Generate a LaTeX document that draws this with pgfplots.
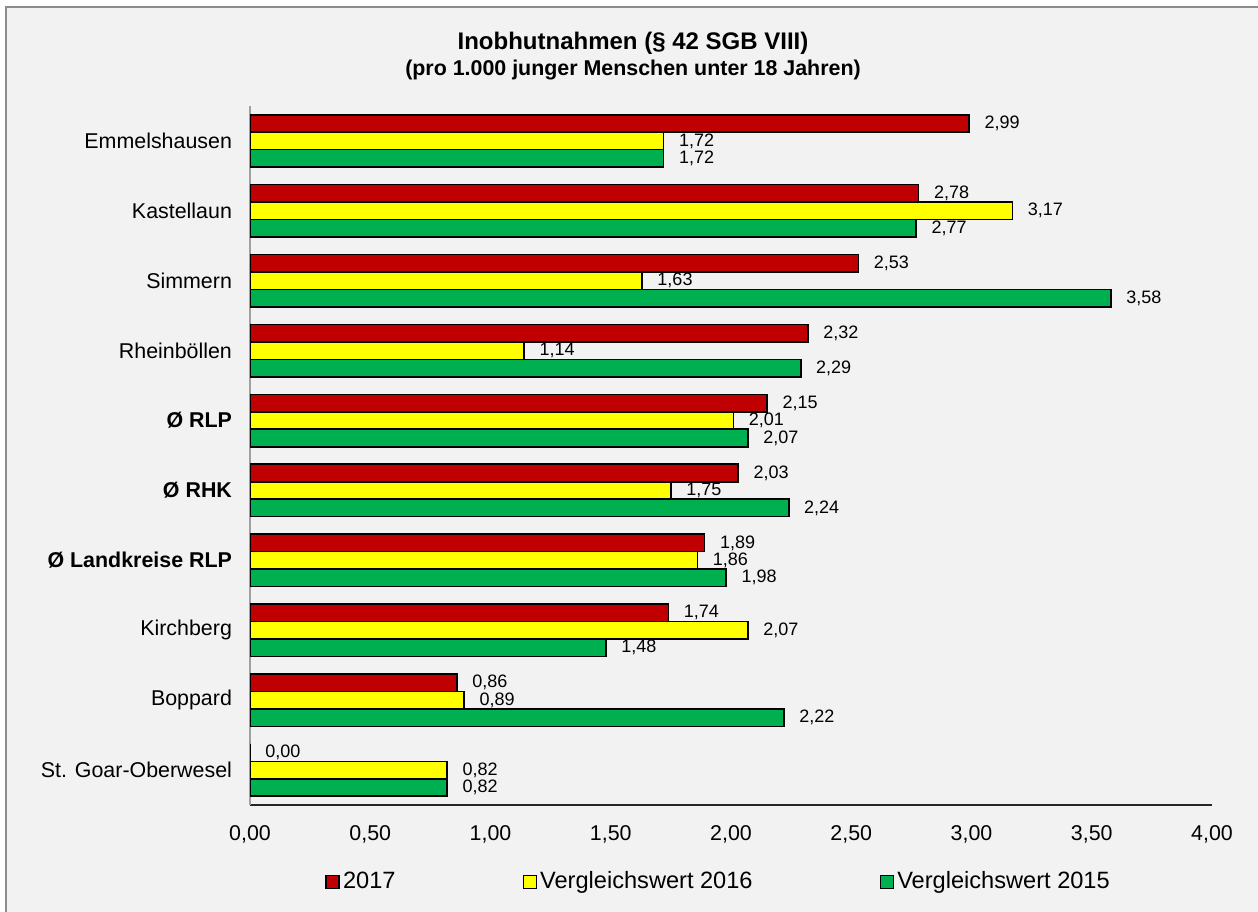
\documentclass[border=0pt]{standalone}
\usepackage{fontspec}
\setmainfont{Liberation Sans}
\usepackage{pgfplots}
\usepackage{pgfplotstable}
\pgfplotsset{compat=1.18}

\definecolor{bar17}{HTML}{C00000}
\definecolor{bar16}{HTML}{FFFF00}
\definecolor{bar15}{HTML}{00B050}
\definecolor{chartbg}{HTML}{F2F2F2}
\definecolor{framegray}{HTML}{8C8C8C}
\definecolor{axisgray}{HTML}{A0A0A0}

% Inobhutnahmen je 1.000 junger Menschen unter 18 Jahren
% idx 9 = oberste Zeile (Emmelshausen), idx 0 = unterste Zeile
\pgfplotstableread{
idx v2017 v2016 v2015
9 2.99 1.72 1.72
8 2.78 3.17 2.77
7 2.53 1.63 3.58
6 2.32 1.14 2.29
5 2.15 2.01 2.07
4 2.03 1.75 2.24
3 1.89 1.86 1.98
2 1.74 2.07 1.48
1 0.86 0.89 2.22
0 0.00 0.82 0.82
}\inobhut

\begin{document}
\begin{tikzpicture}
\useasboundingbox (0pt,0pt) rectangle (629pt,455.5pt);
\fill[white] (0pt,0pt) rectangle (629pt,455.5pt);
\draw[framegray, line width=1.2pt, fill=chartbg] (3pt,-10pt) rectangle (640pt,452pt);

\begin{axis}[
  at={(125pt,53pt)}, anchor=south west,
  scale only axis, width=481pt, height=349.5pt,
  xbar, bar width=0.25,
  legend image code/.code={\draw[#1, line width=0.8pt] (0pt,-3.25pt) rectangle (6.5pt,3.25pt);},
  xmin=0, xmax=4, ymin=-0.5, ymax=9.5,
  xtick={0,0.5,1,1.5,2,2.5,3,3.5,4},
  scaled x ticks=false,
  xticklabel style={font=\fontsize{10.7}{12}\selectfont, yshift=-6.5pt,
    /pgf/number format/.cd, fixed, fixed zerofill, precision=2, use comma, assume math mode=true},
  ytick={0,1,2,3,4,5,6,7,8,9},
  yticklabels={St. Goar-Oberwesel, Boppard, Kirchberg,
    \textbf{Ø Landkreise RLP}\hspace{3.5pt}, \textbf{Ø RHK}\hspace{3.5pt},
    \textbf{Ø RLP}\hspace{3.5pt}, Rheinböllen, Simmern, Kastellaun, Emmelshausen},
  yticklabel style={font=\fontsize{10.7}{12}\selectfont, xshift=-5.5pt},
  major tick length=0pt,
  axis x line*=bottom, axis y line*=left,
  x axis line style={black!85, line width=1pt, -},
  y axis line style={axisgray, line width=1pt, -},
  point meta=x,
  nodes near coords={\pgfmathprintnumber[fixed, fixed zerofill, precision=2, use comma, assume math mode=true]{\pgfplotspointmeta}},
  every node near coord/.append style={font=\fontsize{9}{10}\selectfont, text=black, draw=none, fill=none, anchor=west, xshift=4pt},
  legend columns=3,
  legend cell align=left,
  legend style={at={(0.078,-0.110)}, anchor=west, draw=none, fill=none, inner sep=0pt,
    font=\fontsize{11.8}{14}\selectfont,
    nodes={inner sep=1.5pt},
    /tikz/every even column/.append style={column sep=62pt}},
]
\addplot[fill=bar17, draw=black, line width=0.8pt, bar shift=0.25]
  table[x=v2017, y=idx] {\inobhut};
\addlegendentry{2017}
\addplot[fill=bar16, draw=black, line width=0.8pt, bar shift=0]
  table[x=v2016, y=idx] {\inobhut};
\addlegendentry{Vergleichswert 2016}
\addplot[fill=bar15, draw=black, line width=0.8pt, bar shift=-0.25]
  table[x=v2015, y=idx] {\inobhut};
\addlegendentry{Vergleichswert 2015}
\end{axis}

\node[anchor=base, font=\bfseries\fontsize{12}{14}\selectfont] at (316.5pt,430.5pt)
  {Inobhutnahmen (§ 42 SGB VIII)};
\node[anchor=base, font=\bfseries\fontsize{10.7}{13}\selectfont] at (316.5pt,417.75pt)
  {(pro 1.000 junger Menschen unter 18 Jahren)};
\end{tikzpicture}
\end{document}
